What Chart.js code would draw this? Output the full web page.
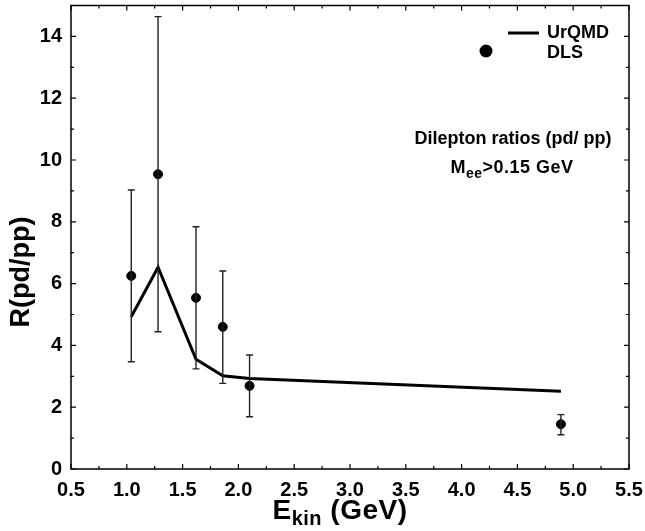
<!DOCTYPE html>
<html>
<head>
<meta charset="utf-8">
<script src="https://cdn.jsdelivr.net/npm/chart.js@4/dist/chart.umd.min.js"></script>
<style>
  html, body { margin: 0; padding: 0; background: #fff; }
  #wrap { width: 645px; height: 531px; }
</style>
</head>
<body>
<div id="wrap"><canvas id="chart" width="645" height="531"></canvas></div>
<script>
// UrQMD model curve
const urqmdE = [1.04, 1.28, 1.62, 1.86, 2.10, 4.89];
const urqmdR = [4.93, 6.53, 3.55, 3.02, 2.93, 2.52];

// DLS data with error bars
const dlsE = [1.04, 1.28, 1.62, 1.86, 2.10, 4.89];
const dlsR = [6.25, 9.54, 5.54, 4.60, 2.69, 1.45];
const dlsLow = [3.47, 4.44, 3.24, 2.77, 1.69, 1.11];
const dlsHigh = [9.03, 14.64, 7.84, 6.41, 3.69, 1.76];

// tick labels
const xTicks = [0.5, 1.0, 1.5, 2.0, 2.5, 3.0, 3.5, 4.0, 4.5, 5.0, 5.5];
const yTicks = [0, 2, 4, 6, 8, 10, 12, 14];

const FONT = '"Liberation Sans", Arial, Helvetica, sans-serif';

// draws "main" + subscript + "rest" centred at cx
function subText(ctx, cx, y, main, sub, rest, bigFont, smallFont, drop, spacing) {
  ctx.letterSpacing = spacing + 'px';
  ctx.font = bigFont;
  const w1 = ctx.measureText(main).width, w3 = ctx.measureText(rest).width;
  ctx.font = smallFont;
  const w2 = ctx.measureText(sub).width;
  const x0 = cx - (w1 + w2 + w3) / 2;
  ctx.textAlign = 'left';
  ctx.font = bigFont;
  ctx.fillText(main, x0, y);
  ctx.font = smallFont;
  ctx.fillText(sub, x0 + w1, y + drop);
  ctx.font = bigFont;
  ctx.fillText(rest, x0 + w1 + w2, y);
  ctx.letterSpacing = '0px';
}

const extras = {
  id: 'extras',
  afterDatasetsDraw(chart) {
    const ctx = chart.ctx;
    const xs = chart.scales.x, ys = chart.scales.y;
    const a = chart.chartArea;
    ctx.save();

    // error bars
    ctx.strokeStyle = '#222';
    ctx.lineWidth = 1.4;
    dlsE.forEach((e, i) => {
      const px = xs.getPixelForValue(e);
      const lo = ys.getPixelForValue(dlsLow[i]);
      const hi = ys.getPixelForValue(dlsHigh[i]);
      ctx.beginPath();
      ctx.moveTo(px, lo); ctx.lineTo(px, hi);
      ctx.moveTo(px - 3.5, lo); ctx.lineTo(px + 3.5, lo);
      ctx.moveTo(px - 3.5, hi); ctx.lineTo(px + 3.5, hi);
      ctx.stroke();
    });

    // frame and inward ticks
    ctx.strokeStyle = '#000';
    ctx.lineWidth = 1.5;
    ctx.strokeRect(a.left, a.top, a.right - a.left, a.bottom - a.top);
    ctx.lineWidth = 1.2;
    ctx.beginPath();
    for (let v = xs.min; v <= xs.max + 1e-9; v += 0.25) {
      const px = xs.getPixelForValue(v);
      const len = Math.abs(v * 2 - Math.round(v * 2)) < 1e-6 ? 5 : 3;
      ctx.moveTo(px, a.bottom); ctx.lineTo(px, a.bottom - len);
      ctx.moveTo(px, a.top); ctx.lineTo(px, a.top + len);
    }
    for (let v = ys.min; v <= ys.max + 1e-9; v += 1) {
      const py = ys.getPixelForValue(v);
      const len = v % 2 === 0 ? 5 : 3;
      ctx.moveTo(a.left, py); ctx.lineTo(a.left + len, py);
      ctx.moveTo(a.right, py); ctx.lineTo(a.right - len, py);
    }
    ctx.stroke();

    // legend
    ctx.fillStyle = '#000';
    ctx.font = 'bold 18px ' + FONT;
    ctx.textBaseline = 'middle';
    ctx.textAlign = 'left';
    ctx.lineWidth = 3;
    ctx.beginPath();
    ctx.moveTo(508, 33); ctx.lineTo(539, 33);
    ctx.stroke();
    ctx.fillText('UrQMD', 547, 33);
    ctx.beginPath();
    ctx.arc(486, 51, 6.5, 0, Math.PI * 2);
    ctx.fill();
    ctx.fillText('DLS', 547, 53);

    // annotation
    ctx.textAlign = 'center';
    ctx.fillText('Dilepton ratios (pd/ pp)', 513, 139);
    subText(ctx, 512, 168, 'M', 'ee', '>0.15 GeV',
      'bold 18px ' + FONT, 'bold 14px ' + FONT, 6, 0.5);

    // x axis title with subscript
    subText(ctx, 340, 511, 'E', 'kin', ' (GeV)',
      'bold 28px ' + FONT, 'bold 20px ' + FONT, 8, 0.5);

    // y axis title
    ctx.translate(22, 272);
    ctx.rotate(-Math.PI / 2);
    ctx.textAlign = 'center';
    ctx.font = 'bold 27px ' + FONT;
    ctx.fillText('R(pd/pp)', 0, 0);
    ctx.restore();
  }
};

new Chart(document.getElementById('chart'), {
  type: 'scatter',
  data: {
    datasets: [
      {
        label: 'UrQMD',
        type: 'line',
        data: urqmdE.map((e, i) => ({ x: e, y: urqmdR[i] })),
        borderColor: '#000',
        borderWidth: 3,
        pointRadius: 0,
        fill: false,
        tension: 0
      },
      {
        label: 'DLS',
        data: dlsE.map((e, i) => ({ x: e, y: dlsR[i] })),
        backgroundColor: '#000',
        borderColor: '#000',
        pointRadius: 4.5,
        pointHoverRadius: 4.5
      }
    ]
  },
  options: {
    responsive: false,
    animation: false,
    layout: { padding: { top: 4, right: 16, left: 0, bottom: 0 } },
    plugins: { legend: { display: false }, tooltip: { enabled: false } },
    scales: {
      x: {
        type: 'linear',
        min: 0.5,
        max: 5.5,
        afterBuildTicks: s => { s.ticks = xTicks.map(v => ({ value: v })); },
        afterFit: s => { s.height = 62; s.paddingLeft = 0; s.paddingRight = 0; },
        grid: { display: false, drawTicks: false },
        border: { display: false },
        ticks: {
          color: '#000',
          padding: 9,
          maxRotation: 0,
          font: { family: FONT, size: 20, weight: 'bold' },
          callback: v => Number(v).toFixed(1)
        }
      },
      y: {
        type: 'linear',
        min: 0,
        max: 15,
        afterBuildTicks: s => { s.ticks = yTicks.map(v => ({ value: v })); },
        afterFit: s => { s.width = 71; s.paddingTop = 0; s.paddingBottom = 0; },
        grid: { display: false, drawTicks: false },
        border: { display: false },
        ticks: {
          color: '#000',
          padding: 9,
          font: { family: FONT, size: 20, weight: 'bold' }
        }
      }
    }
  },
  plugins: [extras]
});
</script>
</body>
</html>
